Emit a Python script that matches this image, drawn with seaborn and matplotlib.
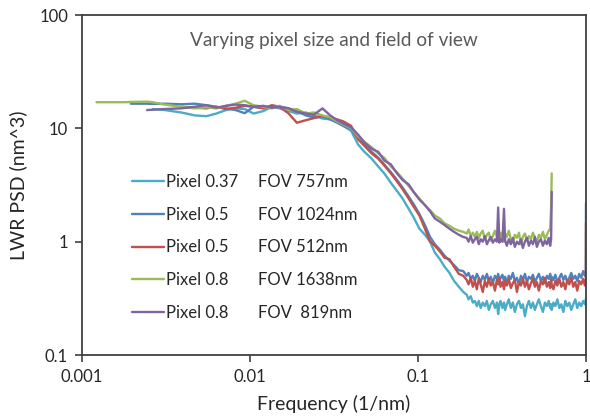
import numpy as np
import pandas as pd
import matplotlib
matplotlib.use("Agg")
import matplotlib.pyplot as plt
from matplotlib.lines import Line2D
from matplotlib.ticker import NullLocator, FixedLocator, FixedFormatter
import seaborn as sns

nan = np.nan

# ---------------- data ----------------
freq = [0.00122, 0.00183, 0.00195, 0.00244, 0.00264, 0.0031, 0.0039, 0.0047, 0.0055, 0.0063,
        0.0072, 0.0082, 0.0093, 0.0105, 0.012, 0.0135, 0.015, 0.017, 0.019, 0.0215,
        0.024, 0.027, 0.030, 0.033, 0.036, 0.040, 0.044, 0.048, 0.053, 0.058,
        0.063, 0.069, 0.075, 0.081, 0.088, 0.095, 0.102, 0.110, 0.118, 0.126,
        0.135, 0.144, 0.154, 0.164, 0.175, 0.186, 0.195, 0.2, 0.206, 0.212,
        0.218, 0.224, 0.23, 0.236, 0.243, 0.25, 0.257, 0.264, 0.271, 0.279,
        0.287, 0.295, 0.300, 0.305, 0.31, 0.318, 0.325, 0.33, 0.338, 0.347,
        0.357, 0.367, 0.377, 0.388, 0.399, 0.41, 0.421, 0.433, 0.445, 0.457,
        0.47, 0.483, 0.496, 0.51, 0.524, 0.539, 0.554, 0.569, 0.585, 0.6,
        0.612, 0.62, 0.625, 0.64, 0.657, 0.675, 0.694, 0.713, 0.733, 0.753,
        0.774, 0.795, 0.817, 0.84, 0.863, 0.887, 0.911, 0.936, 0.962, 0.985,
        0.998, 1.0]

psd_pix037_fov757 = [nan, nan, nan, nan, 14.8, 14.5, 13.8, 13.0, 12.8, 13.5,
        14.5, 15.0, 14.8, 13.5, 14.2, 15.5, 15.0, 14.2, 13.5, 13.8,
        13.0, 12.2, 12.0, 11.5, 10.5, 9.5, 7.2, 6.2, 5.4, 4.6,
        4.0, 3.3, 2.8, 2.4, 1.95, 1.6, 1.3, 1.15, 1.0, 0.8,
        0.7, 0.6, 0.53, 0.45, 0.4, 0.36, 0.34, 0.31, 0.33, 0.29,
        0.3, 0.27, 0.3, 0.26, 0.29, 0.27, 0.3, 0.25, 0.28, 0.3,
        0.26, 0.29, 0.23, 0.28, 0.3, 0.26, 0.29, 0.25, 0.28, 0.31,
        0.26, 0.29, 0.24, 0.28, 0.3, 0.26, 0.28, 0.22, 0.27, 0.3,
        0.26, 0.29, 0.25, 0.28, 0.31, 0.27, 0.24, 0.29, 0.27, 0.3,
        0.26, 0.28, 0.25, 0.29, 0.27, 0.31, 0.26, 0.28, 0.24, 0.3,
        0.27, 0.29, 0.25, 0.28, 0.31, 0.26, 0.29, 0.27, 0.3, 0.28,
        0.31, 0.32]

psd_pix05_fov1024 = [nan, nan, 16.5, 16.5, 16.4, 16.5, 16.3, 16.5, 16.0, 15.5,
        15.0, 14.5, 13.6, 15.5, 15.2, 15.8, 15.5, 15.0, 14.2, 13.0,
        12.5, 12.8, 12.0, 11.2, 10.5, 9.8, 8.2, 7.2, 6.2, 5.5,
        4.8, 4.1, 3.5, 3.0, 2.5, 2.1, 1.75, 1.4, 1.1, 0.95,
        0.85, 0.75, 0.68, 0.62, 0.56, 0.55, 0.5, 0.53, 0.47, 0.5,
        0.45, 0.52, 0.48, 0.44, 0.5, 0.46, 0.52, 0.45, 0.49, 0.43,
        0.5, 0.47, 0.52, 0.44, 0.48, 0.51, 0.45, 0.49, 0.43, 0.5,
        0.47, 0.53, 0.45, 0.48, 0.42, 0.5, 0.46, 0.52, 0.44, 0.49,
        0.47, 0.51, 0.44, 0.48, 0.52, 0.45, 0.49, 0.43, 0.5, 0.47,
        0.52, 0.45, 0.49, 0.46, 0.51, 0.44, 0.48, 0.52, 0.46, 0.5,
        0.44, 0.48, 0.53, 0.47, 0.5, 0.45, 0.52, 0.48, 0.55, 0.5,
        0.52, 2.2]

psd_pix05_fov512 = [nan, nan, nan, nan, nan, nan, 15.5, 15.2, 15.0, 15.5,
        14.8, 15.2, 15.8, 15.5, 15.0, 16.0, 15.5, 13.5, 11.2, 11.8,
        12.3, 12.8, 12.5, 12.0, 11.5, 10.5, 8.0, 7.0, 6.0, 5.4,
        4.7, 4.0, 3.4, 2.9, 2.4, 2.0, 1.7, 1.3, 1.0, 0.92,
        0.82, 0.72, 0.7, 0.6, 0.52, 0.5, 0.46, 0.42, 0.48, 0.4,
        0.45, 0.38, 0.47, 0.42, 0.36, 0.45, 0.4, 0.47, 0.41, 0.44,
        0.37, 0.46, 0.42, 0.48, 0.4, 0.44, 0.38, 0.45, 0.41, 0.47,
        0.39, 0.43, 0.46, 0.36, 0.44, 0.41, 0.47, 0.4, 0.45, 0.38,
        0.43, 0.47, 0.4, 0.44, 0.37, 0.45, 0.42, 0.48, 0.4, 0.44,
        0.39, 0.46, 0.42, 0.38, 0.45, 0.41, 0.47, 0.4, 0.44, 0.38,
        0.46, 0.42, 0.48, 0.4, 0.44, 0.37, 0.45, 0.42, 0.47, 0.41,
        0.44, 1.45]

psd_pix08_fov1638 = [17.0, 17.0, 17.1, 17.2, 17.0, 16.2, 15.5, 15.0, 15.3, 15.0,
        15.8, 16.5, 17.5, 16.0, 15.5, 15.0, 15.8, 14.5, 14.8, 13.5,
        13.8, 13.0, 12.5, 11.5, 10.8, 10.0, 8.5, 7.6, 6.8, 6.0,
        5.5, 4.6, 4.1, 3.6, 3.1, 2.7, 2.4, 2.1, 1.9, 1.7,
        1.6, 1.45, 1.38, 1.3, 1.25, 1.22, 1.18, 1.28, 1.12, 1.2,
        1.1, 1.22, 1.08, 1.18, 1.25, 1.05, 1.15, 1.2, 1.02, 1.12,
        1.25, 1.1, 1.15, 1.05, 1.2, 1.12, 1.0, 1.18, 1.1, 1.25,
        1.05, 0.98, 1.15, 1.08, 1.2, 0.95, 1.1, 1.18, 1.02, 1.12,
        1.05, 1.2, 1.1, 0.98, 1.15, 1.08, 1.22, 1.05, 1.15, 1.25,
        1.3, 2.0, 4.0, nan, nan, nan, nan, nan, nan, nan,
        nan, nan, nan, nan, nan, nan, nan, nan, nan, nan,
        nan, nan]

psd_pix08_fov819 = [nan, nan, nan, 14.5, 14.6, 14.8, 15.0, 15.5, 16.0, 15.2,
        15.8, 16.2, 16.0, 15.5, 15.8, 15.2, 15.5, 15.0, 14.0, 13.5,
        13.2, 15.0, 13.0, 11.8, 11.0, 10.2, 8.8, 7.5, 6.6, 6.2,
        5.2, 4.8, 4.0, 3.5, 3.2, 2.7, 2.35, 2.1, 1.85, 1.6,
        1.5, 1.4, 1.3, 1.22, 1.15, 1.1, 1.08, 1.0, 1.12, 0.98,
        1.05, 1.1, 0.95, 1.05, 1.0, 1.12, 0.95, 1.03, 1.1, 0.98,
        1.05, 1.0, 2.0, 0.98, 1.05, 1.0, 1.95, 1.02, 0.92, 1.05,
        0.95, 1.08, 0.9, 1.0, 0.95, 1.05, 0.88, 1.0, 1.08, 0.92,
        1.02, 0.95, 1.1, 0.9, 1.0, 1.05, 0.92, 1.02, 0.95, 1.08,
        0.92, 1.05, 2.75, nan, nan, nan, nan, nan, nan, nan,
        nan, nan, nan, nan, nan, nan, nan, nan, nan, nan,
        nan, nan]

pixel_labels = ["Pixel 0.37", "Pixel 0.5", "Pixel 0.5", "Pixel 0.8", "Pixel 0.8"]
fov_labels = ["FOV 757nm", "FOV 1024nm", "FOV 512nm", "FOV 1638nm", "FOV  819nm"]
series_values = [psd_pix037_fov757, psd_pix05_fov1024, psd_pix05_fov512,
                 psd_pix08_fov1638, psd_pix08_fov819]
colors = ["#4BACC6", "#4F81BD", "#C0504D", "#9BBB59", "#8064A2"]

x_ticks = [0.001, 0.01, 0.1, 1]
x_tick_labels = ["0.001", "0.01", "0.1", "1"]
y_ticks = [0.1, 1, 10, 100]
y_tick_labels = ["0.1", "1", "10", "100"]

title_text = "Varying pixel size and field of view"
x_label = "Frequency (1/nm)"
y_label = "LWR PSD (nm^3)"

# ---------------- build table ----------------
frames = []
for i, vals in enumerate(series_values):
    frames.append(pd.DataFrame({"freq": freq, "psd": vals, "series": i}))
df = pd.concat(frames, ignore_index=True).dropna()

# ---------------- plot ----------------
sns.set_theme(style="white")
plt.rcParams["font.family"] = ["Lato", "DejaVu Sans"]

W, H = 590, 418
fig = plt.figure(figsize=(W / 100, H / 100), dpi=100)
L, R, T, B = 82, 586, 15, 355
ax = fig.add_axes([L / W, 1 - B / H, (R - L) / W, (B - T) / H])

for i in range(len(series_values)):
    sub = df[df["series"] == i]
    sns.lineplot(data=sub, x="freq", y="psd", color=colors[i], lw=1.7,
                 estimator=None, sort=False, ax=ax, legend=False)

ax.set_xscale("log")
ax.set_yscale("log")
ax.set_xlim(0.001, 1)
ax.set_ylim(0.1, 100)
ax.xaxis.set_major_locator(FixedLocator(x_ticks))
ax.xaxis.set_major_formatter(FixedFormatter(x_tick_labels))
ax.yaxis.set_major_locator(FixedLocator(y_ticks))
ax.yaxis.set_major_formatter(FixedFormatter(y_tick_labels))
ax.xaxis.set_minor_locator(NullLocator())
ax.yaxis.set_minor_locator(NullLocator())

ax.tick_params(axis="both", which="major", direction="out", length=5, width=1.2,
               color="#404040", labelcolor="#262626", labelsize=12, pad=5,
               bottom=True, left=True)
for s in ax.spines.values():
    s.set_visible(True)
    s.set_color("#404040")
    s.set_linewidth(1.3)
ax.grid(False)

ax.set_xlabel(x_label, fontsize=14, color="#262626", labelpad=7)
ax.set_ylabel(y_label, fontsize=14, color="#262626", labelpad=9)

ax.text(0.5, 0.926, title_text, transform=ax.transAxes, ha="center", va="center",
        fontsize=13.7, color="#595959")

# legend: handles + pixel labels
handles = [Line2D([], [], color=c, lw=1.7) for c in colors]
leg1 = ax.legend(handles, pixel_labels, loc="upper left",
                 bbox_to_anchor=(132 / W, 1 - 174 / H), bbox_transform=fig.transFigure,
                 frameon=False, fontsize=12, handlelength=1.9, handletextpad=0.15,
                 labelspacing=1.0, borderpad=0, borderaxespad=0)
for t in leg1.get_texts():
    t.set_color("#262626")
ax.add_artist(leg1)

blank = [Line2D([], [], color="none", lw=0) for _ in colors]
leg2 = ax.legend(blank, fov_labels, loc="upper left",
                 bbox_to_anchor=(258 / W, 1 - 174 / H), bbox_transform=fig.transFigure,
                 frameon=False, fontsize=12, handlelength=0, handletextpad=0,
                 labelspacing=1.0, borderpad=0, borderaxespad=0)
for t in leg2.get_texts():
    t.set_color("#262626")

fig.savefig("out.png", dpi=100)
